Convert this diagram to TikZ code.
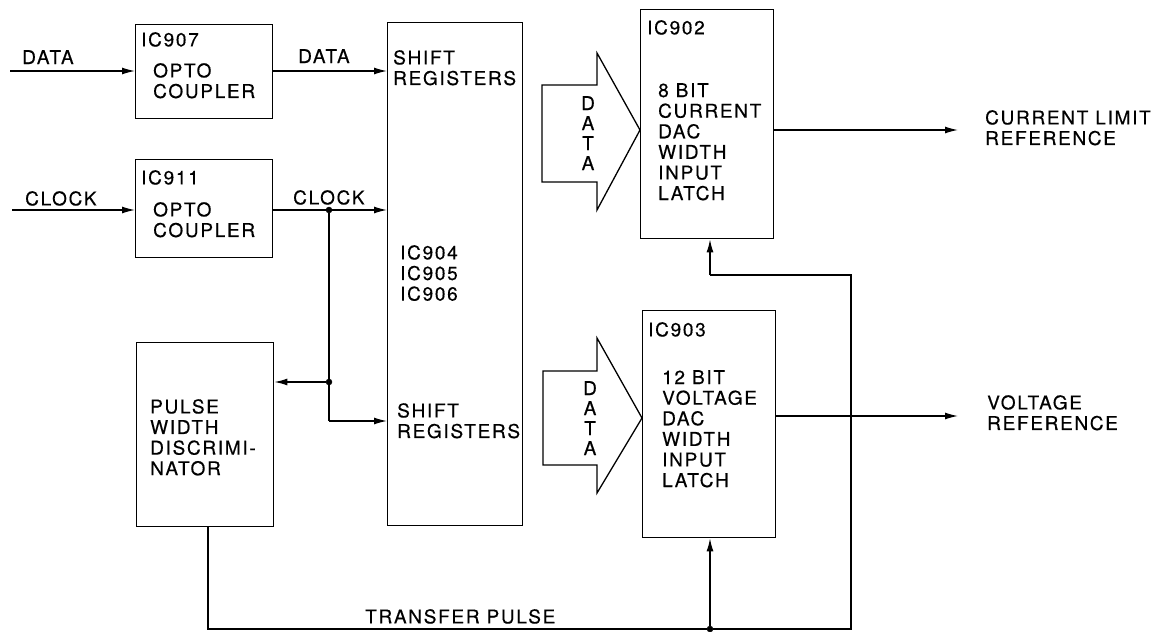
\documentclass[tikz,border=0pt]{standalone}
\usepackage{fontspec}
\newfontfamily\lblfont[LetterSpace=9,FakeBold=0.4]{TeX Gyre Heros}
\usetikzlibrary{arrows.meta}
\begin{document}
\begin{tikzpicture}[x=1pt,y=-1pt,
  box/.style={draw,line width=1.4pt,inner sep=0pt,anchor=north west},
  wire/.style={line width=1.3pt},
  arr/.style={wire,-{Latex[length=13pt,width=7pt]}},
  lbl/.style={inner sep=0pt,anchor=north west,align=left,font=\lblfont\fontsize{19}{20.6}\selectfont},
  vlbl/.style={inner sep=0pt,anchor=north,align=center,font=\lblfont\fontsize{19}{20}\selectfont},
  dot/.style={circle,fill,draw,inner sep=0pt,minimum size=6pt},
  bigarrow/.style={draw,line width=1.3pt,line join=miter}]
\useasboundingbox (0,0) rectangle (1163,632);
% boxes
\node[box,minimum width=137pt,minimum height=94pt] (ic907) at (135,24) {};
\node[box,minimum width=137pt,minimum height=98pt] (ic911) at (135,159) {};
\node[box,minimum width=137pt,minimum height=184pt] (pwd) at (136,342) {};
\node[box,minimum width=135pt,minimum height=503pt] (sr) at (387,22) {};
\node[box,minimum width=133pt,minimum height=229pt] (ic902) at (640,9) {};
\node[box,minimum width=133pt,minimum height=227pt] (ic903) at (642,310) {};
% texts
\node[lbl] (tdatain) at (22,50) {DATA};
\node[lbl] (tclkin) at (25,191) {CLOCK};
\node[lbl] (t907) at (141,32) {IC907};
\node[lbl] (t907b) at (153,63) {OPTO\\COUPLER};
\node[lbl] (t911) at (141,170) {IC911};
\node[lbl] (t911b) at (153,202) {OPTO\\COUPLER};
\node[lbl] (tdataout) at (298,49) {DATA};
\node[lbl] (tclkout) at (293,190) {CLOCK};
\node[lbl] (tsr1) at (393,50) {SHIFT\\REGISTERS};
\node[lbl] (tsric) at (400,245) {IC904\\IC905\\IC906};
\node[lbl] (tsr2) at (397,403) {SHIFT\\REGISTERS};
\node[lbl] (tpwd) at (150,399) {PULSE\\WIDTH\\DISCRIMI-\\NATOR};
\node[lbl] (ttp) at (365,609) {TRANSFER PULSE};
\node[lbl] (t902) at (647,20) {IC902};
\node[lbl] (t902b) at (658,83) {8 BIT\\CURRENT\\DAC\\WIDTH\\INPUT\\LATCH};
\node[lbl] (t903) at (648,322) {IC903};
\node[lbl] (t903b) at (662,370) {12 BIT\\VOLTAGE\\DAC\\WIDTH\\INPUT\\LATCH};
\node[lbl] (tcl) at (985,110) {CURRENT LIMIT\\REFERENCE};
\node[lbl] (tvr) at (987,395) {VOLTAGE\\REFERENCE};
% big data arrows
\draw[bigarrow] (542,85) -- (597,85) -- (597,53) -- (ic902.west |- 0,130) -- (597,210) -- (597,182) -- (542,182) -- cycle;
\node[vlbl] (tbus1) at (588,96) {D\\A\\T\\A};
\draw[bigarrow] (543,371) -- (597,371) -- (597,338) -- (ic903.west |- 0,418) -- (597,493) -- (597,465) -- (543,465) -- cycle;
\node[vlbl] (tbus2) at (590,381) {D\\A\\T\\A};
% coordinates
\coordinate (dataL) at (10,71);
\coordinate (clkL) at (12,210);
\coordinate (dout) at (272,71);
\coordinate (cout) at (272,210);
\node[dot] (j1) at (329,210) {};
\node[dot] (j2) at (329,382) {};
\coordinate (c1) at (329,421);
\coordinate (p1) at (208,629);
\node[dot] (j3) at (710,629) {};
\coordinate (r1) at (851,629);
\coordinate (r2) at (851,275);
\coordinate (r3) at (710,275);
\coordinate (o1) at (958,130);
\coordinate (o2) at (958,416);
% connectors
\draw[arr] (dataL) -- (dataL -| ic907.west);
\draw[arr] (clkL) -- (clkL -| ic911.west);
\draw[arr] (dout) -- (dout -| sr.west);
\draw[arr] (cout) -- (cout -| sr.west);
\draw[wire] (j1) -- (c1);
\draw[arr] (c1) -- (c1 -| sr.west);
\draw[arr] (j2) -- (j2 -| pwd.east);
\draw[wire] (pwd.south -| p1) -- (p1) -- (j3) -- (r1) -- (r2) -- (r3);
\draw[arr] (r3) -- (r3 |- ic902.south);
\draw[arr] (j3) -- (j3 |- ic903.south);
\draw[arr] (ic902.east |- o1) -- (o1);
\draw[arr] (ic903.east |- o2) -- (o2);
\end{tikzpicture}
\end{document}
